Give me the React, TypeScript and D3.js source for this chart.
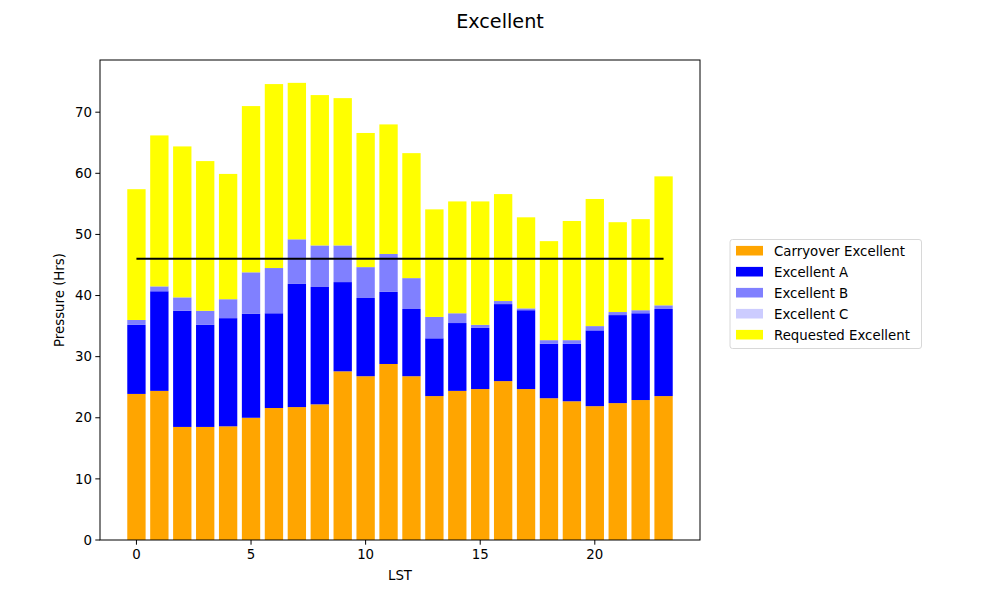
import React from "react";
import * as d3 from "d3";

// values (hours)
const lst = d3.range(0, 24);
const carryover = [23.9, 24.4, 18.5, 18.5, 18.6, 20.0, 21.6, 21.75, 22.2, 27.6, 26.8, 28.8, 26.8, 23.55, 24.4, 24.7, 26.0, 24.7, 23.2, 22.7, 21.9, 22.4, 22.9, 23.55];
const excellentA = [11.3, 16.3, 19.0, 16.7, 17.7, 17.0, 15.5, 20.15, 19.2, 14.6, 12.8, 11.8, 11.0, 9.45, 11.1, 10.0, 12.6, 12.9, 8.9, 9.4, 12.4, 14.4, 14.2, 14.25];
const excellentB = [0.8, 0.8, 2.2, 2.3, 3.1, 6.8, 7.4, 7.3, 6.8, 6.0, 5.05, 6.2, 5.05, 3.5, 1.6, 0.5, 0.5, 0.3, 0.6, 0.6, 0.7, 0.5, 0.5, 0.6];
const excellentC = lst.map(() => 0);
const requested = [21.4, 24.7, 24.7, 24.5, 20.5, 27.2, 30.1, 25.6, 24.6, 24.1, 21.95, 21.2, 20.45, 17.6, 18.3, 20.2, 17.5, 14.9, 16.2, 19.5, 20.8, 14.7, 14.9, 21.1];
const available = 46.0;

const seriesNames = ["Carryover Excellent", "Excellent A", "Excellent B", "Excellent C", "Requested Excellent"];
const seriesColors = ["#ffa500", "#0000ff", "#8080ff", "#ccccff", "#ffff00"];
const xTicks = [0, 5, 10, 15, 20];
const yTicks = [0, 10, 20, 30, 40, 50, 60, 70];

const font = "DejaVu Sans, sans-serif";

export default function App() {
  const W = 1000;
  const H = 600;
  const left = 100, right = 700, top = 60, bottom = 540;

  const rows = lst.map((h, i) => ({
    h,
    s0: carryover[i],
    s1: excellentA[i],
    s2: excellentB[i],
    s3: excellentC[i],
    s4: requested[i],
  }));
  const stack = d3.stack<any>().keys(["s0", "s1", "s2", "s3", "s4"])(rows);

  const barW = 0.8;
  const xMin = -barW / 2, xMax = lst[lst.length - 1] + barW / 2;
  const xPad = (xMax - xMin) * 0.05;
  const x = d3.scaleLinear().domain([xMin - xPad, xMax + xPad]).range([left, right]);
  const yMax = d3.max(stack[stack.length - 1], (d) => d[1]) as number;
  const y = d3.scaleLinear().domain([0, yMax * 1.05]).range([bottom, top]);

  const line = d3.line<number>().x((d) => x(d)).y(() => y(available));

  return (
    <svg width={W} height={H} style={{ display: "block", position: "absolute", left: 0, top: 0 }} fontFamily={font}>
      <rect width={W} height={H} fill="#fff" />
      <text x={500} y={28} fontSize={19.2} textAnchor="middle">Excellent</text>
      {stack.map((layer, si) => (
        <g key={si} fill={seriesColors[si]}>
          {layer.map((d, i) => {
            const h = y(d[0]) - y(d[1]);
            if (h <= 0) return null;
            return (
              <rect
                key={i}
                x={x(lst[i] - barW / 2)}
                width={x(barW) - x(0)}
                y={y(d[1])}
                height={h}
              />
            );
          })}
        </g>
      ))}
      <path d={line([lst[0], lst[lst.length - 1]]) || ""} stroke="#000" strokeWidth={2} fill="none" />
      <rect x={left} y={top} width={right - left} height={bottom - top} fill="none" stroke="#000" strokeWidth={1} />
      {xTicks.map((t) => (
        <g key={t} transform={`translate(${x(t)},${bottom})`}>
          <line y2={4.7} stroke="#000" strokeWidth={1} />
          <text y={19} fontSize={13.33} textAnchor="middle">{t}</text>
        </g>
      ))}
      {yTicks.map((t) => (
        <g key={t} transform={`translate(${left},${y(t)})`}>
          <line x2={-4.7} stroke="#000" strokeWidth={1} />
          <text x={-8} dy="0.35em" fontSize={13.33} textAnchor="end">{t}</text>
        </g>
      ))}
      <text x={(left + right) / 2} y={580} fontSize={13.33} textAnchor="middle">LST</text>
      <text transform={`translate(64,${(top + bottom) / 2}) rotate(-90)`} fontSize={13.33} textAnchor="middle">Pressure (Hrs)</text>
      <g transform="translate(730,239.5)">
        <rect width={191.5} height={109} rx={2.5} fill="#fff" stroke="#d8d8d8" strokeWidth={1} />
        {seriesNames.map((n, i) => (
          <g key={n} transform={`translate(0,${11.2 + i * 21})`}>
            <rect x={6} y={-4.8} width={27} height={9.6} fill={seriesColors[i]} />
            <text x={44} dy="0.36em" fontSize={13.33}>{n}</text>
          </g>
        ))}
      </g>
    </svg>
  );
}
